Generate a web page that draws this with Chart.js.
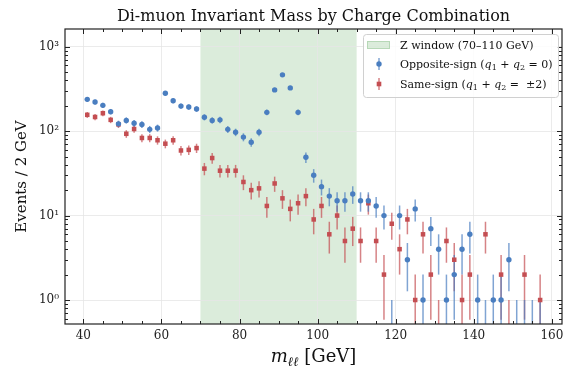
<!DOCTYPE html>
<html>
<head>
<meta charset="utf-8">
<script src="https://cdn.jsdelivr.net/npm/chart.js@4.4.0/dist/chart.umd.min.js"></script>
<style>
  html, body { margin: 0; padding: 0; background: #fff; }
</style>
</head>
<body>
<canvas id="massChart" width="574" height="369"></canvas>
<script>
// bin centres (GeV), 2 GeV wide bins
const massBins = [41, 43, 45, 47, 49, 51, 53, 55, 57, 59,
                  61, 63, 65, 67, 69, 71, 73, 75, 77, 79,
                  81, 83, 85, 87, 89, 91, 93, 95, 97, 99,
                  101, 103, 105, 107, 109, 111, 113, 115, 117, 119,
                  121, 123, 125, 127, 129, 131, 133, 135, 137, 139,
                  141, 143, 145, 147, 149, 151, 153, 155, 157, 159];
// q1 + q2 = 0
const oppositeCounts = [238, 221, 202, 170, 122, 134, 124, 120, 105, 109,
                        281, 229, 198, 193, 183, 146, 134, 136, 105, 97,
                        85, 74, 97, 167, 308, 464, 325, 167, 49, 30,
                        22, 17, 15, 15, 18, 15, 15, 13, 10, 0,
                        10, 3, 12, 1, 7, 4, 1, 2, 4, 6,
                        1, 0, 1, 1, 3, 0, 0, 0, 0, null];
// q1 + q2 = +-2
const sameCounts = [156, 147, 163, 136, 120, 93, 106, 83, 83, 78,
                    71, 78, 59, 60, 63, 36, 48, 34, 34, 34,
                    25, 20, 21, 13, 24, 16, 12, 14, 17, 9,
                    13, 6, 10, 5, 7, 5, 14, 5, 2, 8,
                    4, 9, 1, 6, 2, 0, 5, 3, 1, 2,
                    null, 6, null, 2, 0, null, 2, null, 1, null];
const zWindow = [70, 110];
const xTicks = [40, 60, 80, 100, 120, 140, 160];
const yTicks = [1, 10, 100, 1000];
const yTickLabels = ['10⁰', '10¹', '10²', '10³'];

const SERIF = '"DejaVu Serif", serif';
const BLUE = '#4a7ec0';
const BLUE_ERR = 'rgba(74,126,192,0.7)';
const RED = '#c44e52';
const RED_ERR = 'rgba(196,78,82,0.7)';
const BAND = 'rgba(76, 160, 76, 0.2)';

function fontOf(p) {
    return (p.it ? 'italic ' : '') + p.size + 'px ' + SERIF;
}

// draws a line of text made of pieces (italic / subscript)
function drawParts(ctx, parts, x, y, align) {
    let w = 0;
    parts.forEach(p => {
        ctx.font = fontOf(p);
        p.w = ctx.measureText(p.t).width;
        w += p.w;
    });
    let cx = align === 'center' ? x - w / 2 : x;
    ctx.textAlign = 'left';
    ctx.textBaseline = 'alphabetic';
    parts.forEach(p => {
        ctx.font = fontOf(p);
        ctx.fillText(p.t, cx, y + (p.dy || 0));
        cx += p.w;
    });
}

const canvas = document.getElementById('massChart');
const ctx = canvas.getContext('2d');

const zBand = {
    id: 'zBand',
    beforeDraw: (chart) => {
        const { ctx, chartArea: a, scales: { x } } = chart;
        const x0 = x.getPixelForValue(zWindow[0]);
        const x1 = x.getPixelForValue(zWindow[1]);
        ctx.save();
        ctx.fillStyle = BAND;
        ctx.fillRect(x0, a.top, x1 - x0, a.bottom - a.top);
        ctx.restore();
    }
};

const errorBars = {
    id: 'errorBars',
    beforeDatasetsDraw: (chart) => {
        const { ctx, chartArea: a, scales: { x, y } } = chart;
        ctx.save();
        ctx.beginPath();
        ctx.rect(a.left, a.top, a.right - a.left, a.bottom - a.top);
        ctx.clip();
        ctx.lineWidth = 1.5;
        chart.data.datasets.slice().reverse().forEach(ds => {
            ctx.strokeStyle = ds.errColor;
            ds.counts.forEach((n, i) => {
                if (n === null) return;
                const e = n > 0 ? Math.sqrt(n) : 1;
                const px = x.getPixelForValue(massBins[i]);
                const lo = n - e > 0 ? y.getPixelForValue(n - e) : a.bottom;
                const hi = y.getPixelForValue(n + e);
                ctx.beginPath();
                ctx.moveTo(px, lo);
                ctx.lineTo(px, hi);
                ctx.stroke();
            });
        });
        ctx.restore();
    }
};

const frameAndText = {
    id: 'frameAndText',
    afterDraw: (chart) => {
        const { ctx, chartArea: a, scales: { x, y } } = chart;
        ctx.save();

        // inward ticks on all four sides
        ctx.strokeStyle = '#222';
        ctx.lineWidth = 1;
        const xTick = (v, len) => {
            const px = Math.round(x.getPixelForValue(v)) + 0.5;
            ctx.beginPath();
            ctx.moveTo(px, a.bottom); ctx.lineTo(px, a.bottom - len);
            ctx.moveTo(px, a.top); ctx.lineTo(px, a.top + len);
            ctx.stroke();
        };
        const yTick = (v, len) => {
            const py = Math.round(y.getPixelForValue(v)) + 0.5;
            ctx.beginPath();
            ctx.moveTo(a.left, py); ctx.lineTo(a.left + len, py);
            ctx.moveTo(a.right, py); ctx.lineTo(a.right - len, py);
            ctx.stroke();
        };
        for (let v = 40; v <= 160; v += 5) {
            xTick(v, v % 20 === 0 ? 5 : 3);
        }
        yTicks.forEach(v => yTick(v, 5));
        [0.1, 1, 10, 100, 1000].forEach(d => {
            for (let k = 2; k <= 9; k++) {
                const v = k * d;
                if (v > y.min && v < y.max) yTick(v, 3);
            }
        });

        ctx.lineWidth = 1.2;
        ctx.strokeRect(a.left, a.top, a.right - a.left, a.bottom - a.top);

        // title
        ctx.fillStyle = '#111';
        drawParts(ctx, [{ t: 'Di-muon Invariant Mass by Charge Combination', size: 16 }],
            (a.left + a.right) / 2, 21, 'center');

        // x axis label
        drawParts(ctx, [
            { t: 'm', it: true, size: 18 },
            { t: 'ℓℓ', it: true, size: 13, dy: 4 },
            { t: ' [GeV]', size: 18 }
        ], (a.left + a.right) / 2, 362, 'center');

        // legend
        const lx = 363, ly = 34, lw = 195, lh = 63;
        ctx.beginPath();
        ctx.roundRect(lx + 0.5, ly + 0.5, lw, lh, 3);
        ctx.fillStyle = 'rgba(255,255,255,0.85)';
        ctx.fill();
        ctx.strokeStyle = '#d0d0d0';
        ctx.lineWidth = 1;
        ctx.stroke();

        ctx.fillStyle = BAND;
        ctx.fillRect(367, 41, 23, 8);
        ctx.strokeStyle = 'rgba(76,160,76,0.25)';
        ctx.strokeRect(367.5, 41.5, 22, 7);

        ctx.lineWidth = 1.5;
        ctx.strokeStyle = BLUE_ERR;
        ctx.beginPath(); ctx.moveTo(379, 58); ctx.lineTo(379, 70); ctx.stroke();
        ctx.fillStyle = BLUE;
        ctx.beginPath(); ctx.arc(379, 64, 2.7, 0, Math.PI * 2); ctx.fill();

        ctx.strokeStyle = RED_ERR;
        ctx.beginPath(); ctx.moveTo(379, 78); ctx.lineTo(379, 90); ctx.stroke();
        ctx.fillStyle = RED;
        ctx.fillRect(376.7, 81.7, 4.6, 4.6);

        ctx.fillStyle = '#111';
        drawParts(ctx, [{ t: 'Z window (70–110 GeV)', size: 11 }], 400, 49);
        drawParts(ctx, [
            { t: 'Opposite-sign (', size: 11 },
            { t: 'q', it: true, size: 11 },
            { t: '1', size: 8, dy: 2 },
            { t: ' + ', size: 11 },
            { t: 'q', it: true, size: 11 },
            { t: '2', size: 8, dy: 2 },
            { t: ' = 0)', size: 11 }
        ], 400, 68);
        drawParts(ctx, [
            { t: 'Same-sign (', size: 11 },
            { t: 'q', it: true, size: 11 },
            { t: '1', size: 8, dy: 2 },
            { t: ' + ', size: 11 },
            { t: 'q', it: true, size: 11 },
            { t: '2', size: 8, dy: 2 },
            { t: ' =  ±2)', size: 11 }
        ], 400, 88);

        ctx.restore();
    }
};

new Chart(ctx, {
    type: 'scatter',
    data: {
        datasets: [
            {
                label: 'Opposite-sign (q1 + q2 = 0)',
                data: massBins.map((m, i) => ({ x: m, y: oppositeCounts[i] > 0 ? oppositeCounts[i] : null })),
                counts: oppositeCounts,
                errColor: BLUE_ERR,
                pointStyle: 'circle',
                pointRadius: 2.7,
                backgroundColor: BLUE,
                borderColor: BLUE,
                borderWidth: 0,
            },
            {
                label: 'Same-sign (q1 + q2 = ±2)',
                data: massBins.map((m, i) => ({ x: m, y: sameCounts[i] > 0 ? sameCounts[i] : null })),
                counts: sameCounts,
                errColor: RED_ERR,
                pointStyle: 'rect',
                pointRadius: 3.2,
                backgroundColor: RED,
                borderColor: RED,
                borderWidth: 0,
            },
        ]
    },
    options: {
        responsive: false,
        animation: false,
        layout: {
            padding: { top: 29, right: 12, bottom: 0, left: 0 }
        },
        scales: {
            x: {
                type: 'linear',
                min: 35.3,
                max: 162.6,
                afterBuildTicks: (scale) => {
                    scale.ticks = xTicks.map(v => ({ value: v }));
                },
                afterFit: (scale) => { scale.height = 45; },
                grid: { color: '#e6e6e6', lineWidth: 0.8, drawTicks: false },
                border: { display: false },
                ticks: {
                    font: { family: SERIF, size: 12 },
                    color: '#222',
                    padding: 5,
                    maxRotation: 0,
                },
            },
            y: {
                type: 'logarithmic',
                min: 0.52,
                max: 1620,
                afterBuildTicks: (scale) => {
                    scale.ticks = yTicks.map(v => ({ value: v }));
                },
                afterFit: (scale) => { scale.width = 65; },
                grid: { color: '#e6e6e6', lineWidth: 0.8, drawTicks: false },
                border: { display: false },
                ticks: {
                    font: { family: SERIF, size: 12 },
                    color: '#222',
                    padding: 6,
                    callback: (value) => {
                        const i = yTicks.indexOf(value);
                        return i >= 0 ? yTickLabels[i] : '';
                    }
                },
                title: {
                    display: true,
                    text: 'Events / 2 GeV',
                    font: { family: SERIF, size: 15 },
                    color: '#111',
                    padding: { top: 13, bottom: 0 },
                },
            }
        },
        plugins: {
            legend: { display: false },
            title: { display: false },
            tooltip: { enabled: false },
        }
    },
    plugins: [zBand, errorBars, frameAndText],
});
</script>
</body>
</html>
